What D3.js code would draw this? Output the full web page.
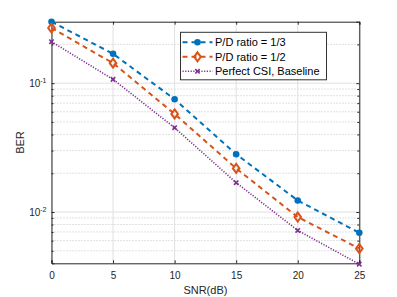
<!DOCTYPE html>
<html>
<head>
<meta charset="utf-8">
<script src="https://cdn.jsdelivr.net/npm/d3@7"></script>
<style>
  body { margin: 0; background: #fff; }
  text { font-family: "Liberation Sans", Arial, sans-serif; }
</style>
</head>
<body>
<div id="chart"></div>
<script>
// data
var snr = [0, 5, 10, 15, 20, 25];
var berThird = [0.30, 0.169, 0.075, 0.0281, 0.0123, 0.0069];
var berHalf = [0.268, 0.143, 0.0577, 0.0218, 0.00914, 0.00521];
var berPerfect = [0.21, 0.107, 0.0451, 0.0169, 0.0072, 0.00394];
var seriesNames = ["P/D ratio = 1/3", "P/D ratio = 1/2", "Perfect CSI, Baseline"];
var xTicks = [0, 5, 10, 15, 20, 25];
var yMajor = [0.1, 0.01];

var W = 397, H = 297;
var margin = {top: 21.7, right: 37.7, bottom: 33.7, left: 51.5},
    width = W - margin.left - margin.right,
    height = H - margin.top - margin.bottom;

var svg = d3.select("#chart").append("svg")
    .attr("width", W).attr("height", H);
var g = svg.append("g")
    .attr("transform", "translate(" + margin.left + "," + margin.top + ")");

var x = d3.scaleLinear().domain([0, 25]).range([0, width]);
var y = d3.scaleLog().domain([0.004, 0.3]).range([height, 0]);

// minor y values (2..9 x decade) inside domain
var yMinor = [];
[0.001, 0.01, 0.1].forEach(function(dec) {
  for (var k = 2; k <= 9; k++) {
    var v = dec * k;
    if (v > 0.004 && v < 0.3) yMinor.push(v);
  }
});

// minor grid (dotted)
g.selectAll(".ymin").data(yMinor).enter().append("line")
    .attr("x1", 0).attr("x2", width)
    .attr("y1", function(d) { return y(d); }).attr("y2", function(d) { return y(d); })
    .style("stroke", "#b4b4b4").style("stroke-width", 0.8)
    .style("stroke-dasharray", "1,2");

// major grid
g.selectAll(".xgrid").data(xTicks).enter().append("line")
    .attr("x1", function(d) { return x(d); }).attr("x2", function(d) { return x(d); })
    .attr("y1", 0).attr("y2", height)
    .style("stroke", "#e0e0e0").style("stroke-width", 1);
g.selectAll(".ygrid").data(yMajor).enter().append("line")
    .attr("x1", 0).attr("x2", width)
    .attr("y1", function(d) { return y(d); }).attr("y2", function(d) { return y(d); })
    .style("stroke", "#e0e0e0").style("stroke-width", 1);

// axes (ticks pointing inward)
var axisColor = "#262626";
var xAxis = g.append("g")
    .attr("transform", "translate(0," + height + ")")
    .call(d3.axisBottom(x).tickValues(xTicks).tickSize(-3).tickPadding(9).tickFormat(d3.format("d")));
g.append("g")
    .call(d3.axisTop(x).tickValues(xTicks).tickSize(-3).tickFormat(""));

g.append("g")
    .call(d3.axisLeft(y).tickValues(yMajor).tickSize(-3).tickFormat(""));
g.append("g")
    .attr("transform", "translate(" + width + ",0)")
    .call(d3.axisRight(y).tickValues(yMajor).tickSize(-3).tickFormat(""));
g.append("g")
    .call(d3.axisLeft(y).tickValues(yMinor).tickSize(-2).tickFormat(""))
    .select(".domain").remove();
g.append("g")
    .attr("transform", "translate(" + width + ",0)")
    .call(d3.axisRight(y).tickValues(yMinor).tickSize(-2).tickFormat(""))
    .select(".domain").remove();

g.selectAll(".domain").style("stroke", axisColor);
g.selectAll(".tick line").style("stroke", axisColor);
xAxis.selectAll("text").style("font-size", "10px").style("fill", axisColor);

// y tick labels 10^-1, 10^-2
var ylab = g.selectAll(".ylab").data(yMajor).enter().append("text")
    .attr("x", -5).attr("y", function(d) { return y(d) + 3.5; })
    .attr("text-anchor", "end")
    .style("font-size", "10px").style("fill", axisColor);
ylab.append("tspan").text("10");
ylab.append("tspan").attr("dy", -4).style("font-size", "7px")
    .text(function(d) { return "-" + Math.round(-Math.log10(d)); });

// axis titles
g.append("text")
    .attr("x", width / 2).attr("y", height + 31)
    .attr("text-anchor", "middle")
    .style("font-size", "11px").style("fill", axisColor)
    .text("SNR(dB)");
g.append("text")
    .attr("transform", "translate(" + (24 - margin.left) + "," + (height / 2) + ") rotate(-90)")
    .attr("text-anchor", "middle")
    .style("font-size", "11px").style("fill", axisColor)
    .text("BER");

// series
var series = [
  {name: seriesNames[0], vals: berThird, color: "#0072bd", dash: "5,4", width: 2, marker: "circle"},
  {name: seriesNames[1], vals: berHalf, color: "#d95319", dash: "5,4", width: 2, marker: "diamond"},
  {name: seriesNames[2], vals: berPerfect, color: "#7e2f8e", dash: "1.2,1.5", width: 1.6, marker: "x"}
];

var line = d3.line()
    .x(function(d) { return x(d[0]); })
    .y(function(d) { return y(d[1]); });

function drawMarker(sel, s, cx, cy) {
  if (s.marker === "circle") {
    sel.append("circle").attr("cx", cx).attr("cy", cy).attr("r", 3.3)
      .style("fill", s.color);
  } else if (s.marker === "diamond") {
    sel.append("path")
      .attr("d", "M" + cx + "," + (cy - 4.5) + "L" + (cx + 3.3) + "," + cy +
                 "L" + cx + "," + (cy + 4.5) + "L" + (cx - 3.3) + "," + cy + "Z")
      .style("fill", "none").style("stroke", s.color).style("stroke-width", 2);
  } else {
    var r = 2.2;
    sel.append("path")
      .attr("d", "M" + (cx - r) + "," + (cy - r) + "L" + (cx + r) + "," + (cy + r) +
                 "M" + (cx - r) + "," + (cy + r) + "L" + (cx + r) + "," + (cy - r))
      .style("stroke", s.color).style("stroke-width", 1.6);
  }
}

var plot = g.append("g");
series.forEach(function(s) {
  var pts = snr.map(function(v, i) { return [v, s.vals[i]]; });
  plot.append("path").datum(pts)
    .attr("d", line)
    .style("fill", "none")
    .style("stroke", s.color)
    .style("stroke-width", s.width)
    .style("stroke-dasharray", s.dash);
  pts.forEach(function(p) { drawMarker(plot, s, x(p[0]), y(p[1])); });
});

// legend
var lg = svg.append("g").attr("transform", "translate(180.5,32.3)");
lg.append("rect").attr("width", 146).attr("height", 47.5)
  .style("fill", "#fff").style("stroke", "#333").style("stroke-width", 1);
series.forEach(function(s, i) {
  var ry = 10 + i * 14.5;
  lg.append("line").attr("x1", 2).attr("x2", 32).attr("y1", ry).attr("y2", ry)
    .style("stroke", s.color).style("stroke-width", s.width)
    .style("stroke-dasharray", s.dash);
  drawMarker(lg, s, 17, ry);
  lg.append("text").attr("x", 34.5).attr("y", ry + 4)
    .style("font-size", "11px").style("fill", "#000")
    .text(s.name);
});
</script>
</body>
</html>
